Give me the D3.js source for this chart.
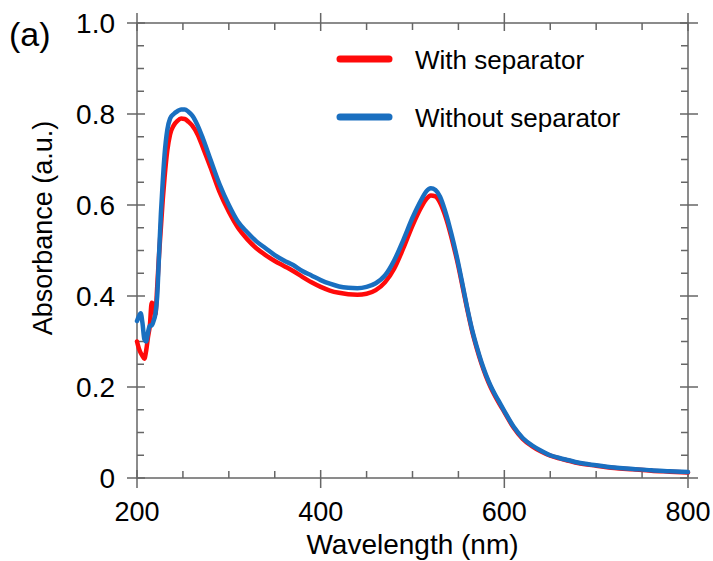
<!DOCTYPE html>
<html>
<head>
<meta charset="utf-8">
<script src="https://cdn.jsdelivr.net/npm/d3@7"></script>
<style>
  body { margin: 0; background: #fff; }
  text { font-family: "Liberation Sans", Arial, sans-serif; fill: #000; }
</style>
</head>
<body>
<svg id="chart" width="713" height="561"></svg>
<script>
// wavelength grid (nm)
var wavelengths = [200, 202, 204, 206, 208, 210, 212, 214, 216, 218, 220, 222, 224, 226, 228, 230, 233, 236, 240, 244, 248, 252, 256, 260, 266, 272, 280, 290, 300, 310, 320, 330, 340, 350, 360, 370, 380, 390, 400, 410, 420, 430, 440, 450, 460, 470, 480, 490, 500, 510, 515, 520, 525, 530, 535, 540, 545, 550, 555, 560, 565, 570, 575, 580, 585, 590, 595, 600, 610, 620, 630, 640, 650, 660, 670, 680, 700, 720, 740, 760, 780, 800];

// absorbance, with separator (red)
var withSeparator = [0.30, 0.285, 0.275, 0.268, 0.262, 0.28, 0.31, 0.335, 0.385, 0.38, 0.36, 0.42, 0.49, 0.55, 0.61, 0.66, 0.72, 0.755, 0.775, 0.785, 0.79, 0.789, 0.783, 0.775, 0.755, 0.725, 0.683, 0.628, 0.585, 0.55, 0.525, 0.505, 0.49, 0.477, 0.466, 0.455, 0.442, 0.43, 0.42, 0.412, 0.407, 0.404, 0.403, 0.405, 0.413, 0.43, 0.46, 0.505, 0.555, 0.597, 0.613, 0.621, 0.619, 0.605, 0.58, 0.547, 0.508, 0.465, 0.416, 0.367, 0.322, 0.285, 0.252, 0.224, 0.2, 0.18, 0.162, 0.145, 0.111, 0.086, 0.07, 0.058, 0.049, 0.043, 0.038, 0.033, 0.027, 0.022, 0.019, 0.016, 0.014, 0.012];

// absorbance, without separator (blue)
var withoutSeparator = [0.345, 0.355, 0.362, 0.34, 0.305, 0.30, 0.32, 0.335, 0.335, 0.345, 0.36, 0.40, 0.49, 0.58, 0.65, 0.71, 0.765, 0.79, 0.80, 0.806, 0.81, 0.81, 0.805, 0.797, 0.775, 0.745, 0.70, 0.645, 0.60, 0.563, 0.54, 0.52, 0.505, 0.49, 0.478, 0.468, 0.455, 0.445, 0.435, 0.427, 0.421, 0.418, 0.417, 0.42, 0.428, 0.445, 0.478, 0.523, 0.572, 0.613, 0.63, 0.637, 0.633, 0.618, 0.59, 0.555, 0.515, 0.47, 0.42, 0.37, 0.325, 0.288, 0.255, 0.227, 0.203, 0.183, 0.165, 0.147, 0.113, 0.088, 0.072, 0.06, 0.05, 0.044, 0.039, 0.034, 0.028, 0.023, 0.02, 0.017, 0.015, 0.013];

var seriesNames = ["With separator", "Without separator"];
var xTicks = [200, 400, 600, 800];
var yTicks = [0, 0.2, 0.4, 0.6, 0.8, 1.0];
var yTickLabels = ["0", "0.2", "0.4", "0.6", "0.8", "1.0"];

var COLOR = { RED: "#ff0a0a", BLUE: "#1a6fc0", AXIS: "#666666" };

var margin = { top: 23, right: 25, bottom: 83, left: 137 };
var width = 713 - margin.left - margin.right;
var height = 561 - margin.top - margin.bottom;

var svg = d3.select("#chart");
var plot = svg.append("g")
  .attr("transform", "translate(" + margin.left + "," + margin.top + ")");

var x = d3.scaleLinear().domain([200, 800]).range([0, width]);
var y = d3.scaleLinear().domain([0, 1]).range([height, 0]);

// frame
plot.append("rect")
  .attr("width", width).attr("height", height)
  .attr("fill", "none").attr("stroke", COLOR.AXIS).attr("stroke-width", 1.5);

// ticks: major cross the frame, minor point inward
var xMinor = d3.range(200, 801, 50);
var yMinor = d3.range(0, 1.0001, 0.05);
var ticks = plot.append("g").attr("stroke", COLOR.AXIS).attr("stroke-width", 1.5);

xMinor.forEach(function (v) {
  var major = v % 200 === 0;
  var out = major ? 10 : 0;
  var inn = major ? 8 : 7;
  ticks.append("line").attr("x1", x(v)).attr("x2", x(v)).attr("y1", height + out).attr("y2", height - inn);
  ticks.append("line").attr("x1", x(v)).attr("x2", x(v)).attr("y1", -out).attr("y2", inn);
});
yMinor.forEach(function (v) {
  var major = Math.abs(v * 5 - Math.round(v * 5)) < 1e-6;
  var out = major ? 10 : 0;
  var inn = major ? 8 : 7;
  ticks.append("line").attr("y1", y(v)).attr("y2", y(v)).attr("x1", -out).attr("x2", inn);
  ticks.append("line").attr("y1", y(v)).attr("y2", y(v)).attr("x1", width + out).attr("x2", width - inn);
});

// tick labels
plot.selectAll(".xlab").data(xTicks).enter().append("text")
  .attr("class", "xlab")
  .attr("x", function (d) { return x(d); })
  .attr("y", height + 43)
  .attr("text-anchor", "middle")
  .style("font-size", "27px")
  .text(function (d) { return d; });

plot.selectAll(".ylab").data(yTicks).enter().append("text")
  .attr("class", "ylab")
  .attr("x", -22)
  .attr("y", function (d) { return y(d) + 10; })
  .attr("text-anchor", "end")
  .style("font-size", "28px")
  .text(function (d, i) { return yTickLabels[i]; });

// axis titles
svg.append("text")
  .attr("x", margin.left + width / 2)
  .attr("y", 554)
  .attr("text-anchor", "middle")
  .style("font-size", "28px")
  .text("Wavelength (nm)");

svg.append("text")
  .attr("transform", "translate(52,228) rotate(-90)")
  .attr("text-anchor", "middle")
  .style("font-size", "27px")
  .text("Absorbance (a.u.)");

svg.append("text")
  .attr("x", 9).attr("y", 46)
  .style("font-size", "34px")
  .text("(a)");

// curves
var line = d3.line()
  .x(function (d) { return x(d[0]); })
  .y(function (d) { return y(d[1]); })
  .curve(d3.curveMonotoneX);

var series = [
  { name: seriesNames[0], values: withSeparator, color: COLOR.RED },
  { name: seriesNames[1], values: withoutSeparator, color: COLOR.BLUE }
];

plot.selectAll(".curve").data(series).enter().append("path")
  .attr("class", "curve")
  .attr("fill", "none")
  .attr("stroke", function (d) { return d.color; })
  .attr("stroke-width", 4.5)
  .attr("stroke-linejoin", "round")
  .attr("stroke-linecap", "round")
  .attr("d", function (d) {
    return line(wavelengths.map(function (w, i) { return [w, d.values[i]]; }));
  });

// legend
var legend = svg.selectAll(".legend").data(series).enter().append("g")
  .attr("class", "legend")
  .attr("transform", function (d, i) { return "translate(340," + (59 + i * 58) + ")"; });

legend.append("line")
  .attr("x1", 0).attr("x2", 49)
  .attr("stroke", function (d) { return d.color; })
  .attr("stroke-width", 7)
  .attr("stroke-linecap", "round");

legend.append("text")
  .attr("x", 75).attr("y", 10)
  .style("font-size", "26px")
  .text(function (d) { return d.name; });
</script>
</body>
</html>
